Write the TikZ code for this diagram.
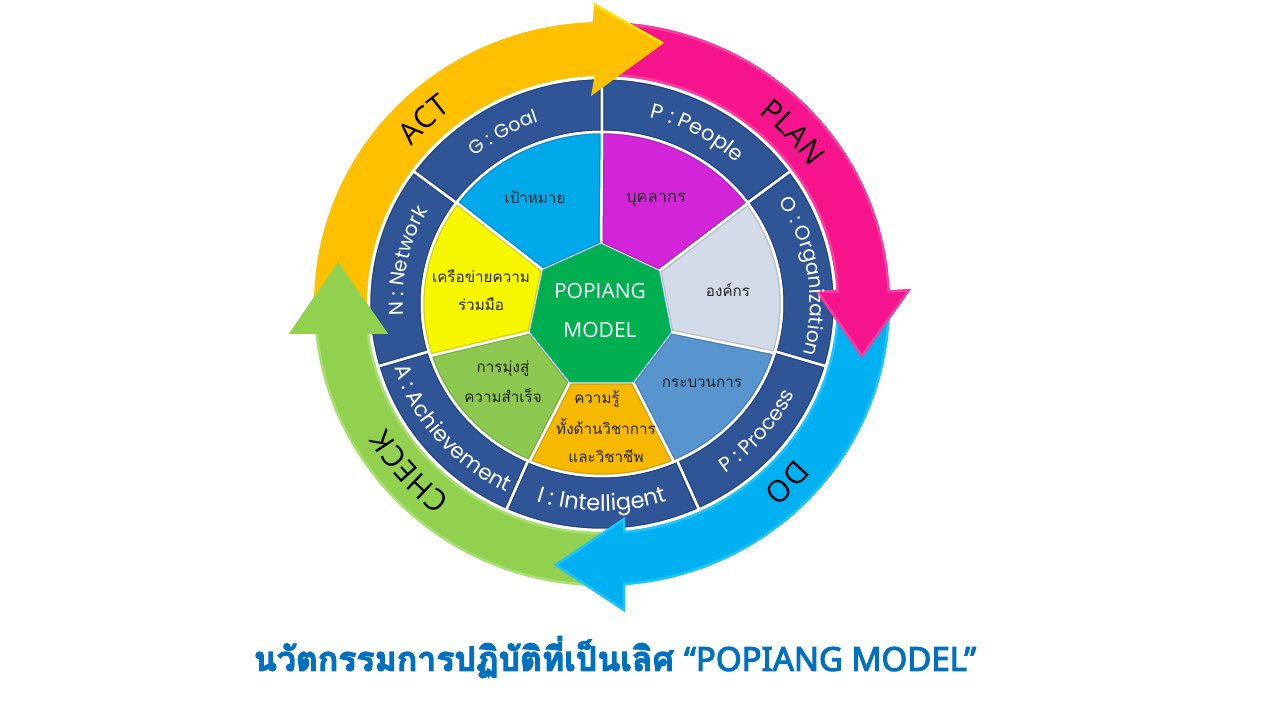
\documentclass[tikz,border=0pt]{standalone}
\usepackage{fontspec}
\usetikzlibrary{decorations.text}
\newfontfamily\thaifont[Script=Thai]{Loma}
\newfontfamily\wordfont{Open Sans}
\newfontfamily\ringfont{Poppins}
\newfontfamily\titlefont{Noto Sans}
\definecolor{ringblue}{HTML}{2F5597}
\definecolor{ringedge}{HTML}{24447C}
\definecolor{goalcol}{HTML}{00A9E9}
\definecolor{peoplecol}{HTML}{D225D8}
\definecolor{orgcol}{HTML}{D3DAE8}
\definecolor{processcol}{HTML}{5894CD}
\definecolor{knowcol}{HTML}{F6B900}
\definecolor{achievecol}{HTML}{8CC850}
\definecolor{networkcol}{HTML}{F7F700}
\definecolor{hubcol}{HTML}{00B050}
\definecolor{actcol}{HTML}{FFC000}
\definecolor{plancol}{HTML}{F5148C}
\definecolor{planedge}{HTML}{FB3CA0}
\definecolor{docol}{HTML}{00B0F0}
\definecolor{doedge}{HTML}{1CC4F8}
\definecolor{checkcol}{HTML}{92D050}
\definecolor{checkedge}{HTML}{A8E070}
\definecolor{titlecol}{HTML}{0070C0}
\tikzset{
  piearc/.style={x radius=180pt,y radius=172pt},
  ringarc/.style={x radius=233pt,y radius=226pt},
  outerarc/.style={x radius=288pt,y radius=282pt},
  innerarc/.style={x radius=235pt,y radius=228pt},
  thailabel/.style={font=\thaifont\fontsize{15.2}{18}\selectfont,text=black!85},
  hublabel/.style={font=\wordfont\fontsize{21}{23}\selectfont,text=white}
}
\newcommand{\bevelfill}[3]{%
  \begin{scope}
    \clip #3;
    \fill[#1] #3;
    \draw[#2,line width=5pt] #3;
  \end{scope}}
\newcommand{\cwtext}[5]{\path[decorate,decoration={text along path,text align=center,text={|#1|#2}}]
  (#3+70:#4pt and #5pt) arc[start angle=#3+70,end angle=#3-70,x radius=#4pt,y radius=#5pt];}
\newcommand{\ccwtext}[5]{\path[decorate,decoration={text along path,text align=center,text={|#1|#2}}]
  (#3-70:#4pt and #5pt) arc[start angle=#3-70,end angle=#3+70,x radius=#4pt,y radius=#5pt];}
\newcommand{\ringstyle}[1]{\color{white}\ringfont\fontsize{#1}{22}\selectfont}
\newcommand{\wordstyle}{\color{black}\wordfont\fontsize{30}{36}\selectfont}
\begin{document}
\begin{tikzpicture}[x=1pt,y=1pt]
    \useasboundingbox (-602,304) rectangle (678,-416);

    % hub corners
    \coordinate (h0) at (-1,60);
    \coordinate (h1) at (57,33);
    \coordinate (h2) at (69,-28);
    \coordinate (h3) at (31,-78);
    \coordinate (h4) at (-32,-78);
    \coordinate (h5) at (-72,-28);
    \coordinate (h6) at (-59,34);

    % arrow heads
    \coordinate (acttop) at (-8,301);
    \coordinate (acttip) at (62,261);
    \coordinate (actlow) at (-11,208);
    \coordinate (planin) at (213,14);
    \coordinate (planout) at (309,15);
    \coordinate (plantip) at (260,-54);
    \coordinate (doin) at (23,-213);
    \coordinate (dotip) at (-48,-261);
    \coordinate (doout) at (23,-308);
    \coordinate (checkout) at (-313,-30);
    \coordinate (checktip) at (-264,42);
    \coordinate (checkin) at (-214,-30);

    % ring
    \foreach \from/\to in {90/36,36/-16,-16/-65.4,-65.4/-114.3,-114.3/-164,-164/-216,-216/-270}{
      \def\ringpath{(\from:233pt and 226pt) arc[ringarc,start angle=\from,end angle=\to]
        -- (\to:180pt and 172pt) arc[piearc,start angle=\to,end angle=\from] -- cycle}
      \bevelfill{ringblue}{ringedge}{\ringpath}
      \draw[white,line width=2.5pt] \ringpath;
    }

    % inner pie
    \foreach \from/\to/\first/\second/\col in {
      90/35.9/h0/h1/peoplecol,35.9/-16.6/h1/h2/orgcol,-16.6/-66.5/h2/h3/processcol,
      -66.5/-113.8/h3/h4/knowcol,-113.8/-162.5/h4/h5/achievecol,-162.5/-216.2/h5/h6/networkcol,
      -216.2/-270/h6/h0/goalcol}{
      \def\piepath{(\first) -- (\from:180pt and 172pt) arc[piearc,start angle=\from,end angle=\to] -- (\second) -- cycle}
      \bevelfill{\col}{\col!85!black}{\piepath}
      \draw[white,line width=2.5pt] \piepath;
    }
    \draw[fill=hubcol,draw=cyan!60!hubcol,line width=0.7pt] (h0)--(h1)--(h2)--(h3)--(h4)--(h5)--(h6)--cycle;

    % the four arrows
    \def\checkpath{(-85:288pt and 282pt) arc[outerarc,start angle=-85,end angle=-173.9]
      -- (checkout) -- (checktip) -- (checkin) -- (-172.5:235pt and 228pt)
      arc[innerarc,start angle=-172.5,end angle=-85] -- cycle}
    \bevelfill{checkcol}{checkedge}{\checkpath}
    \def\dopath{(3:288pt and 282pt) arc[outerarc,start angle=3,end angle=-85.4]
      -- (doout) -- (dotip) -- (doin) -- (-84.3:235pt and 228pt)
      arc[innerarc,start angle=-84.3,end angle=3] -- cycle}
    \bevelfill{docol}{doedge}{\dopath}
    \def\planpath{(90:288pt and 282pt) arc[outerarc,start angle=90,end angle=2.8]
      -- (planout) -- (plantip) -- (planin) -- (3.5:235pt and 228pt)
      arc[innerarc,start angle=3.5,end angle=90] -- cycle}
    \bevelfill{plancol}{planedge}{\planpath}
    \fill[actcol] (186:288pt and 282pt) arc[outerarc,start angle=186,end angle=91.8]
      -- (acttop) -- (acttip) -- (actlow) -- (91.8:235pt and 228pt)
      arc[innerarc,start angle=91.8,end angle=186] -- cycle;
    \draw[yellow!70!actcol,line width=2.5pt] ([yshift=-1.5pt]acttop) -- ([xshift=-1.5pt]acttip);
    \fill[checkcol] (checkout) -- (checktip) -- (checkin) -- cycle;

    % ring texts
    \cwtext{\ringstyle{19}}{G : Goal}{120}{199}{192}
    \cwtext{\ringstyle{21}}{P : People}{61}{199}{192}
    \cwtext{\ringstyle{20}}{O : Organization}{8}{208}{194}
    \cwtext{\ringstyle{20}}{N : Network}{167.6}{199}{192}
    \ccwtext{\ringstyle{20.5}}{P : Process}{-39.5}{214}{207}
    \ccwtext{\ringstyle{22.5}}{I : Intelligent}{-90}{214}{207}
    \ccwtext{\ringstyle{21.5}}{A : Achievement}{-140}{218}{209}

    % arrow words
    \cwtext{\wordstyle}{ACT}{134}{250}{244}
    \cwtext{\wordstyle}{PLAN}{42}{250}{244}
    \cwtext{\wordstyle}{DO}{-44}{250}{244}
    \cwtext{\wordstyle}{CHECK}{-139}{250}{244}

    \node[hublabel] (popiang) at (-2,13) {POPIANG};
    \node[hublabel] (model) at (-2,-26) {MODEL};

    \node[thailabel] (goal) at (-67,107) {เป้าหมาย};
    \node[thailabel,font=\thaifont\fontsize{16.5}{18}\selectfont] (people) at (54,104) {บุคลากร};
    \node[thailabel] (org) at (126,14) {องค์กร};
    \node[thailabel] (process) at (100,-79) {กระบวนการ};
    \node[thailabel] (knowa) at (-5,-95) {ความรู้};
    \node[thailabel] (knowb) at (4,-122) {ทั้งด้านวิชาการ};
    \node[thailabel] (knowc) at (4,-152) {และวิชาชีพ};
    \node[thailabel] (achievea) at (-99,-65) {การมุ่งสู่};
    \node[thailabel] (achieveb) at (-99,-92) {ความสำเร็จ};
    \node[thailabel] (networka) at (-121,28) {เครือข่ายความ};
    \node[thailabel] (networkb) at (-121,0) {ร่วมมือ};

    \node[text=titlecol] (title) at (13,-353) {\special{pdf:code 2 Tr 1.1 w 0 0.44 0.75 RG}{\thaifont\bfseries\fontsize{33.8}{36}\selectfont นวัตกรรมการปฏิบัติที่เป็นเลิศ}\ \ \ {\titlefont\bfseries\fontsize{33}{36}\selectfont “POPIANG MODEL”}\special{pdf:code 0 Tr 1 w 0 0 0 RG}};
\end{tikzpicture}
\end{document}
